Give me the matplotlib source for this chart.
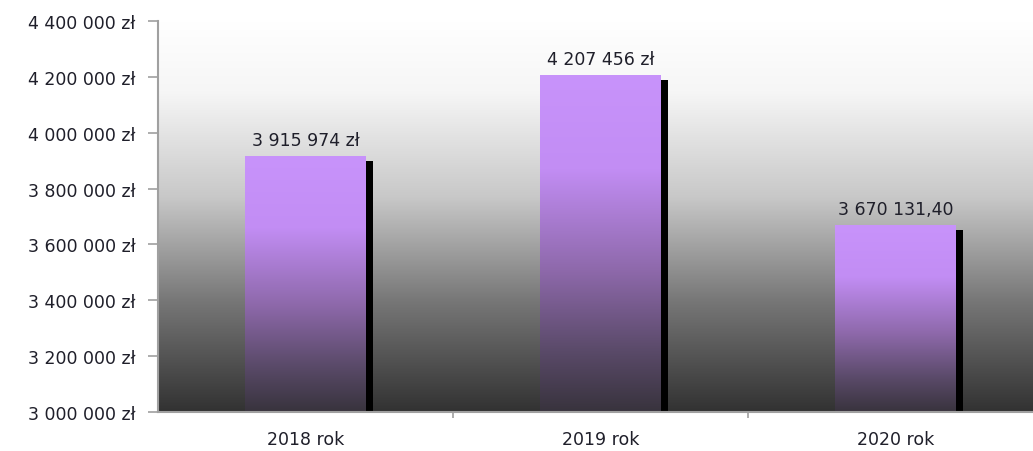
import matplotlib.pyplot as plt
import numpy as np
from matplotlib.colors import LinearSegmentedColormap
from matplotlib.patches import Rectangle
from matplotlib.ticker import FuncFormatter, FixedLocator

# dane z wykresu
years = ["2018 rok", "2019 rok", "2020 rok"]
values = [3915974, 4207456, 3670131.40]
value_labels = ["3 915 974 zł", "4 207 456 zł", "3 670 131,40"]
y_ticks = [3000000, 3200000, 3400000, 3600000, 3800000, 4000000, 4200000, 4400000]

BG_CMAP = LinearSegmentedColormap.from_list(
    "bg",
    [(0.0, "#ffffff"), (0.18, "#f6f6f6"), (0.45, "#c8c8c8"),
     (0.72, "#767676"), (1.0, "#323232")],
)
BAR_CMAP = LinearSegmentedColormap.from_list(
    "bar",
    [(0.0, "#c893fb"), (0.28, "#c28df4"), (0.58, "#8e69ab"),
     (0.82, "#5a4a69"), (1.0, "#38333d")],
)
TEXT_COLOR = "#1f1f2a"
AXIS_COLOR = "#a0a0a0"

BAR_W = 0.41
SHADOW_W = 0.022
SHADOW_DROP = 18000
YMIN, YMAX = 3000000, 4400000


def fmt_zl(v, _pos=None):
    return f"{v:,.0f}".replace(",", " ") + " zł"


fig = plt.figure(figsize=(10.33, 4.52), dpi=100)
# os wychodzi lekko poza prawa krawedz, jak w oryginale
ax = fig.add_axes([0.153, 0.0863, 0.857, 0.865])
fig.patch.set_facecolor("white")

# tlo z gradientem
grad = np.linspace(0, 1, 256).reshape(-1, 1)
ax.imshow(grad, cmap=BG_CMAP, aspect="auto", extent=[0, 1, 0, 1],
          transform=ax.transAxes, zorder=0, origin="upper")

for i, v in enumerate(values):
    left = i - BAR_W / 2
    # cien
    ax.add_patch(Rectangle((left + BAR_W, YMIN), SHADOW_W, v - SHADOW_DROP - YMIN,
                           facecolor="black", edgecolor="none", zorder=2))
    rect = Rectangle((left, YMIN), BAR_W, v - YMIN, facecolor="none",
                     edgecolor="none", zorder=3)
    ax.add_patch(rect)
    im = ax.imshow(grad, cmap=BAR_CMAP, aspect="auto",
                   extent=[left, left + BAR_W, YMIN, v], origin="upper", zorder=3)
    im.set_clip_path(rect)
    ax.annotate(value_labels[i], (i, v), textcoords="offset points", xytext=(0, 5),
                ha="center", va="bottom", fontsize=12.5, color=TEXT_COLOR, zorder=4)

ax.set_xlim(-0.5, len(years) - 0.5)
ax.set_ylim(YMIN, YMAX)

ax.set_yticks(y_ticks)
ax.yaxis.set_major_formatter(FuncFormatter(fmt_zl))
ax.set_xticks(range(len(years)))
ax.set_xticklabels(years)
ax.xaxis.set_minor_locator(FixedLocator([0.5, 1.5]))

ax.tick_params(axis="y", length=7, width=1.2, color=AXIS_COLOR, pad=9,
               labelsize=12.5, labelcolor=TEXT_COLOR)
ax.tick_params(axis="x", which="major", length=0, pad=13,
               labelsize=12.5, labelcolor=TEXT_COLOR)
ax.tick_params(axis="x", which="minor", length=4, width=1.2, color=AXIS_COLOR)

for side in ("top", "right"):
    ax.spines[side].set_visible(False)
for side in ("left", "bottom"):
    ax.spines[side].set_color(AXIS_COLOR)
    ax.spines[side].set_linewidth(1.5)
    ax.spines[side].set_zorder(5)

fig.savefig("out.png", dpi=100)
